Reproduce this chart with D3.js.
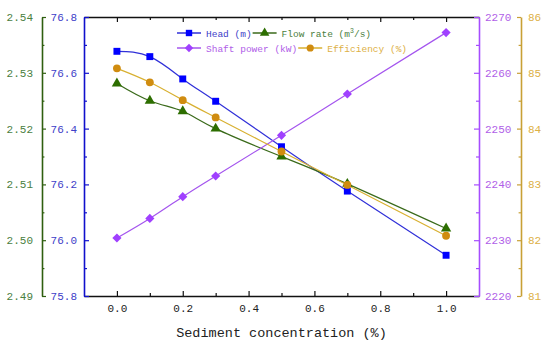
<!DOCTYPE html>
<html>
<head>
<meta charset="utf-8">
<script src="https://cdn.jsdelivr.net/npm/d3@7"></script>
<style>
  html, body { margin: 0; padding: 0; background: #fff; }
  svg text { font-family: "Liberation Mono", "DejaVu Sans Mono", monospace; }
</style>
</head>
<body>
<div id="app"></div>
<script>
// Values
const concentration = [0, 0.1, 0.2, 0.3, 0.5, 0.7, 1.0];
const head = [76.677, 76.658, 76.578, 76.498, 76.335, 76.176, 75.946];
const flowRate = [2.5281, 2.5250, 2.5231, 2.5200, 2.5150, 2.5101, 2.5021];
const shaftPower = [2230.4, 2233.9, 2237.8, 2241.5, 2248.8, 2256.2, 2267.2];
const efficiency = [85.08, 84.83, 84.51, 84.20, 83.59, 82.99, 82.08];

const xMajor = [0, 0.2, 0.4, 0.6, 0.8, 1.0];
const xMinor = [0.1, 0.3, 0.5, 0.7, 0.9];
const headTicks = [75.8, 76.0, 76.2, 76.4, 76.6, 76.8];
const flowTicks = [2.49, 2.50, 2.51, 2.52, 2.53, 2.54];
const powerTicks = [2220, 2230, 2240, 2250, 2260, 2270];
const effTicks = [81, 82, 83, 84, 85, 86];

const d3 = window.d3;
const width = 550, height = 348;
const plot = { left: 84, right: 479, top: 17, bottom: 296 };

const col = {
  head: { axis: "#1010cc", label: "#4040c8", line: "#3030d8", mark: "#0000ff" },
  flow: { axis: "#2f5f10", label: "#4a8040", line: "#3a6a1a", mark: "#2d6e00" },
  power: { axis: "#a64dff", label: "#b060e8", line: "#a455ee", mark: "#a040ff" },
  eff: { axis: "#c8a035", label: "#ddb045", line: "#d8b030", mark: "#d08c10" }
};

const svg = d3.select("#app").append("svg")
  .attr("width", width).attr("height", height);

const x = d3.scaleLinear().domain([-0.1, 1.1]).range([plot.left, plot.right]);
const yHead = d3.scaleLinear().domain([75.8, 76.8]).range([plot.bottom, plot.top]);
const yFlow = d3.scaleLinear().domain([2.49, 2.54]).range([plot.bottom, plot.top]);
const yPower = d3.scaleLinear().domain([2220, 2270]).range([plot.bottom, plot.top]);
const yEff = d3.scaleLinear().domain([81, 86]).range([plot.bottom, plot.top]);

// minor ticks halfway between major ones
const halves = (ticks) => ticks.slice(0, -1).map((t, i) => (t + ticks[i + 1]) / 2);

function drawAxis(axisFn, scale, pos, major, fmt, color, labelColor, size, pad, isX) {
  const g = svg.append("g")
    .attr("transform", isX ? `translate(0,${pos})` : `translate(${pos},0)`);
  g.call(axisFn(scale).tickValues(major).tickFormat(fmt)
    .tickSizeInner(size).tickSizeOuter(0).tickPadding(pad));
  g.append("g").call(axisFn(scale).tickValues(isX ? xMinor : halves(major)).tickFormat("")
    .tickSizeInner(size * 0.6).tickSizeOuter(0))
    .select(".domain").remove();
  g.selectAll("path.domain").attr("stroke", color).attr("stroke-width", 1.6);
  g.selectAll("line").attr("stroke", color).attr("stroke-width", 1.2);
  g.selectAll("text")
    .attr("fill", labelColor)
    .style("font-size", "11px");
  return g;
}

// bottom & top
drawAxis(d3.axisBottom, x, plot.bottom, xMajor, d3.format(".1f"), "#111", "#222", -5, 8, true);
const topAxis = drawAxis(d3.axisTop, x, plot.top, xMajor, "", "#111", "#222", -5, 0, true);
topAxis.selectAll("text").remove();

// left axes
drawAxis(d3.axisLeft, yHead, plot.left, headTicks, d3.format(".1f"), col.head.axis, col.head.label, -5, 7, false);
drawAxis(d3.axisLeft, yFlow, 42, flowTicks, d3.format(".2f"), col.flow.axis, col.flow.label, -4, 9, false);
// right axes
drawAxis(d3.axisRight, yPower, plot.right, powerTicks, d3.format("d"), col.power.axis, col.power.label, -5, 6, false);
drawAxis(d3.axisRight, yEff, 521, effTicks, d3.format("d"), col.eff.axis, col.eff.label, -4, 7, false);

svg.append("text")
  .attr("x", x(0.5)).attr("y", 337)
  .attr("text-anchor", "middle")
  .attr("fill", "#222")
  .style("font-size", "13.5px")
  .text("Sediment concentration (%)");

// series
const series = [
  { name: "head", values: head, y: yHead, c: col.head, shape: d3.symbolSquare, size: 48, rot: 0 },
  { name: "flow", values: flowRate, y: yFlow, c: col.flow, shape: d3.symbolTriangle, size: 46, rot: 0 },
  { name: "power", values: shaftPower, y: yPower, c: col.power, shape: d3.symbolSquare, size: 42, rot: 45 },
  { name: "eff", values: efficiency, y: yEff, c: col.eff, shape: d3.symbolCircle, size: 48, rot: 0 }
];

const lines = svg.append("g").attr("class", "lines").attr("fill", "none");
series.forEach(s => {
  const line = d3.line()
    .x((d, i) => x(concentration[i]))
    .y(d => s.y(d))
    .curve(d3.curveNatural);
  lines.append("path")
    .attr("d", line(s.values))
    .attr("stroke", s.c.line)
    .attr("stroke-width", 1.2);
});

series.forEach(s => {
  svg.append("g")
    .selectAll("path")
    .data(s.values)
    .join("path")
    .attr("transform", (d, i) => `translate(${x(concentration[i])},${s.y(d)}) rotate(${s.rot})`)
    .attr("d", d3.symbol().type(s.shape).size(s.size))
    .attr("fill", s.c.mark);
});

// legend, two rows
const legendRows = [
  [
    { s: series[0], label: ["Head (m)"] },
    { s: series[1], label: ["Flow rate (m", "3", "/s)"] }
  ],
  [
    { s: series[2], label: ["Shaft power (kW)"] },
    { s: series[3], label: ["Efficiency (%)"] }
  ]
];

const legend = svg.append("g").attr("class", "legend");
legendRows.forEach((row, r) => {
  let cx = 177;
  const cy = 33 + r * 15;
  row.forEach(item => {
    legend.append("line")
      .attr("x1", cx).attr("x2", cx + 24)
      .attr("y1", cy).attr("y2", cy)
      .attr("stroke", item.s.c.line).attr("stroke-width", 1.5);
    legend.append("path")
      .attr("transform", `translate(${cx + 12},${cy}) rotate(${item.s.rot})`)
      .attr("d", d3.symbol().type(item.s.shape).size(item.s.size * 0.85))
      .attr("fill", item.s.c.mark);
    const t = legend.append("text")
      .attr("x", cx + 29).attr("y", cy + 3.5)
      .attr("fill", item.s.c.label)
      .style("font-size", "9.5px");
    if (item.label.length === 1) {
      t.text(item.label[0]);
    } else {
      t.append("tspan").text(item.label[0]);
      t.append("tspan").attr("dy", -4).style("font-size", "6.5px").text(item.label[1]);
      t.append("tspan").attr("dy", 4).text(item.label[2]);
    }
    cx += 29 + t.node().getComputedTextLength() + 1;
  });
});
</script>
</body>
</html>
